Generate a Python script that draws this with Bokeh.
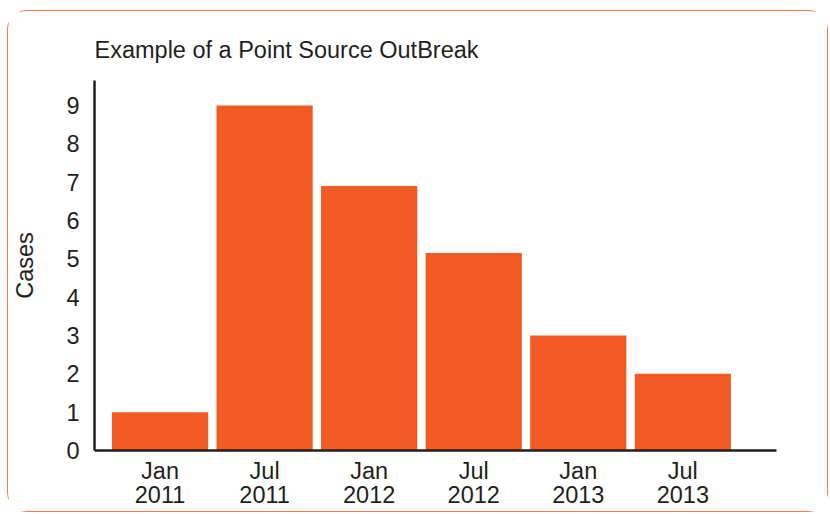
from bokeh.plotting import figure
from bokeh.models import Range1d, FixedTicker, ColumnDataSource
from bokeh.embed import file_html
from bokeh.resources import INLINE

# data
periods = ["Jan\n2011", "Jul\n2011", "Jan\n2012", "Jul\n2012", "Jan\n2013", "Jul\n2013"]
cases = [1, 9, 6.9, 5.15, 3, 2]
y_ticks = [0, 1, 2, 3, 4, 5, 6, 7, 8, 9]

xs = list(range(len(periods)))
src = ColumnDataSource(dict(x=xs, top=cases))

FONT = "Liberation Sans"
DARK = "#231f20"
BAR = "#f15a22"
FS = "23.5px"

p = figure(width=821, height=502, output_backend="svg", toolbar_location=None,
           x_range=Range1d(-0.627, 5.896), y_range=Range1d(0, 9.65),
           title="Example of a Point Source OutBreak",
           min_border_left=86, min_border_right=53, min_border_top=69, min_border_bottom=63)

p.vbar(x="x", top="top", width=0.92, source=src, color=BAR, line_color=None)

p.styles = {"border": "1.5px solid #f47a48", "border-radius": "20px",
            "margin-left": "7px", "margin-top": "10px"}

p.title.text_font = FONT
p.title.text_font_size = FS
p.title.text_font_style = "normal"
p.title.text_color = DARK
p.title.align = "left"
p.title.standoff = 36

p.outline_line_color = None
p.xgrid.grid_line_color = None
p.ygrid.grid_line_color = None

p.xaxis.ticker = FixedTicker(ticks=xs)
p.xaxis.major_label_overrides = {i: lab for i, lab in zip(xs, periods)}
p.yaxis.ticker = FixedTicker(ticks=y_ticks)

for ax in (p.xaxis, p.yaxis):
    ax.axis_line_color = DARK
    ax.axis_line_width = 2.5
    ax.major_tick_line_color = None
    ax.minor_tick_line_color = None
    ax.major_label_text_font = FONT
    ax.major_label_text_font_size = FS
    ax.major_label_text_color = DARK

p.xaxis.major_label_standoff = 1
p.xaxis.major_label_text_line_height = 0.95
p.yaxis.major_label_standoff = 9
p.yaxis.axis_label = "Cases"
p.yaxis.axis_label_text_font = FONT
p.yaxis.axis_label_text_font_size = FS
p.yaxis.axis_label_text_font_style = "normal"
p.yaxis.axis_label_text_color = DARK
p.yaxis.axis_label_standoff = 25

open("out.html", "w").write(file_html(p, INLINE))
